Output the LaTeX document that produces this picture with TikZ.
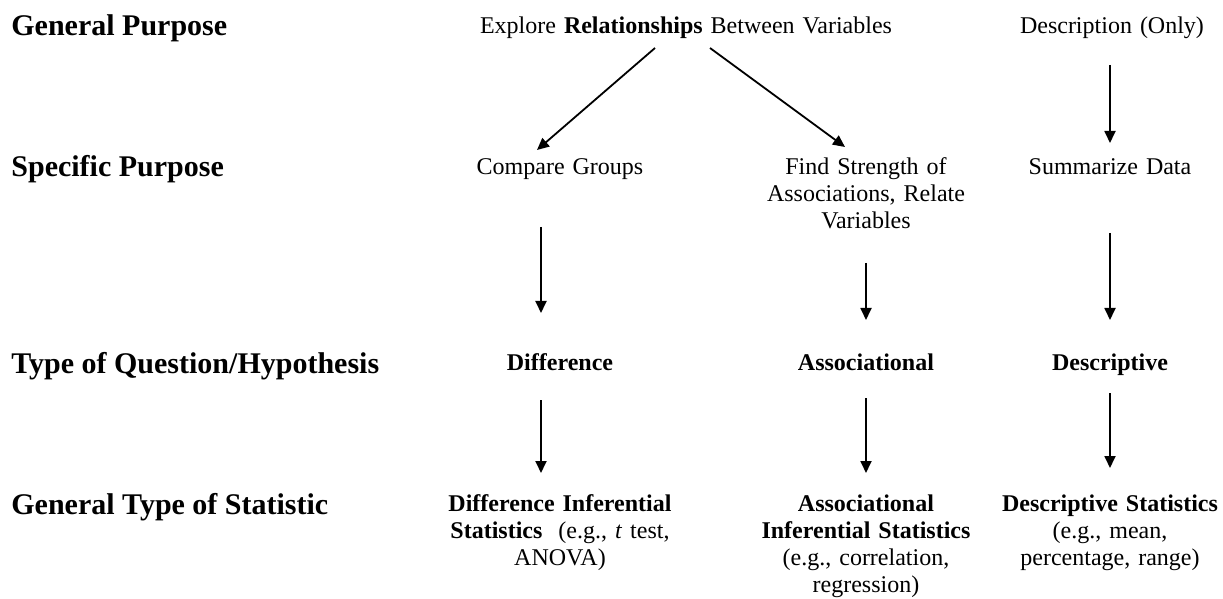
\documentclass[tikz,border=0pt]{standalone}
\usepackage{fontspec}
\setmainfont{Liberation Serif}
\usetikzlibrary{arrows.meta,calc}

\begin{document}
\begin{tikzpicture}[x=0.5pt,y=-0.5pt,
  rowlabel/.style={anchor=base west,inner sep=0pt,font=\fontsize{15}{18}\selectfont\bfseries},
  txt/.style={anchor=base,inner sep=0pt,text width=130pt,align=center,font=\fontsize{12}{13.5}\selectfont},
  arrow/.style={-{Triangle[length=6pt,width=5.5pt]},line width=0.9pt}
]
\useasboundingbox (0,0) rectangle (1223,599);
% row labels
\node[rowlabel] (gp) at (11,36) {General Purpose};
\node[rowlabel] (sp) at (11,177) {Specific Purpose};
\node[rowlabel] (tq) at (11,373) {Type of Question/Hypothesis};
\node[rowlabel] (gt) at (11,514) {General Type of Statistic};
% general purpose
\node[txt,text width=230pt] (explore) at (686,34) {Explore \textbf{Relationships} Between Variables};
\node[txt] (descr) at (1112,34) {Description (Only)};
% specific purpose
\node[txt] (compare) at (560,175) {Compare Groups};
\node[txt] (strength) at (866,175) {Find Strength of\\ Associations, Relate\\ Variables};
\node[txt] (summ) at (1110,175) {Summarize Data};
% type of question
\node[txt] (diff) at (560,371) {\textbf{Difference}};
\node[txt] (assoc) at (866,371) {\textbf{Associational}};
\node[txt] (descq) at (1110,371) {\textbf{Descriptive}};
% type of statistic
\node[txt] (diffstat) at (560,511) {\textbf{Difference Inferential}\\ \textbf{Statistics}\ \ (e.g., \textit{t} test,\\ ANOVA)};
\node[txt] (assocstat) at (866,511) {\textbf{Associational}\\ \textbf{Inferential Statistics}\\ (e.g., correlation,\\ regression)};
\node[txt] (descstat) at (1110,511) {\textbf{Descriptive Statistics}\\ (e.g., mean,\\ percentage, range)};

\draw[arrow] ($(explore.base)+(-31,14)$) -- ($(compare.base)+(-23,-25)$);
\draw[arrow] ($(explore.base)+(24,14)$) -- ($(strength.base)+(-21,-28)$);
\draw[arrow] ($(descr.base)+(-2,31)$) -- ($(summ.base)+(0,-32)$);
\draw[arrow] ($(compare.base)+(-19,52)$) -- ($(diff.base)+(-19,-58)$);
\draw[arrow] ($(strength.base)+(0,88)$) -- ($(assoc.base)+(0,-51)$);
\draw[arrow] ($(summ.base)+(0,58)$) -- ($(descq.base)+(0,-51)$);
\draw[arrow] ($(diff.base)+(-19,29)$) -- ($(diffstat.base)+(-19,-38)$);
\draw[arrow] ($(assoc.base)+(0,27)$) -- ($(assocstat.base)+(0,-38)$);
\draw[arrow] ($(descq.base)+(0,22)$) -- ($(descstat.base)+(0,-43)$);
\end{tikzpicture}
\end{document}
